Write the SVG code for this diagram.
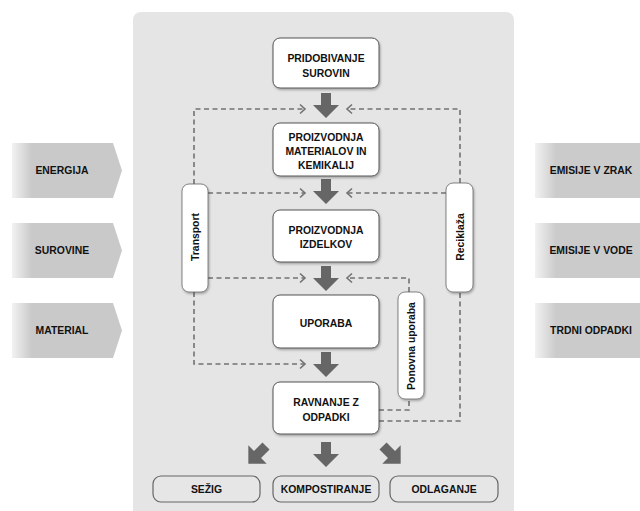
<svg xmlns="http://www.w3.org/2000/svg" width="640" height="511" viewBox="0 0 640 511">
<defs>
<style>
text{font-family:"Liberation Sans",Arial,sans-serif;font-weight:bold;font-size:10.4px;fill:#111;text-anchor:middle}
.node{fill:#fff;stroke:#555;stroke-width:1}
.side{fill:#fff;stroke:#666;stroke-width:0.8}
.out{fill:#e6e6e6;stroke:#666;stroke-width:1.2}
.dash{fill:none;stroke:#727272;stroke-width:1.6;stroke-dasharray:5 3.5}
.big{fill:#666}
</style>
<linearGradient id="gl" x1="12" y1="0" x2="122" y2="0" gradientUnits="userSpaceOnUse">
<stop offset="0" stop-color="#f2f2f2"/><stop offset="0.18" stop-color="#c9c9c9"/><stop offset="1" stop-color="#c9c9c9"/>
</linearGradient>
<linearGradient id="gr" x1="535" y1="0" x2="640" y2="0" gradientUnits="userSpaceOnUse">
<stop offset="0" stop-color="#f2f2f2"/><stop offset="0.2" stop-color="#cbcbcb"/><stop offset="1" stop-color="#cbcbcb"/>
</linearGradient>
<filter id="sh" x="-20%" y="-20%" width="140%" height="140%">
<feDropShadow dx="1" dy="1.5" stdDeviation="1.2" flood-color="#000" flood-opacity="0.3"/>
</filter>
<marker id="chev" markerUnits="userSpaceOnUse" markerWidth="12" markerHeight="12" viewBox="-8 -6 12 12" refX="0" refY="0" orient="auto">
<path d="M-5,-4.5 L0,0 L-5,4.5" fill="none" stroke="#727272" stroke-width="1.6"/>
</marker>
<path id="arr" d="M-5,0 H5 V12 H13 L0,25 L-13,12 H-5 Z"/>
</defs>

<rect x="133" y="12" width="381" height="510" rx="8" fill="#e5e5e5"/>

<g id="in-energija"><path d="M12,143 H113 L122,170.5 L113,198 H12 Z" fill="url(#gl)"/><text x="62" y="174">ENERGIJA</text></g>
<g id="in-surovine"><path d="M12,223 H113 L122,250.5 L113,278 H12 Z" fill="url(#gl)"/><text x="62" y="254">SUROVINE</text></g>
<g id="in-material"><path d="M12,303 H113 L122,330.5 L113,358 H12 Z" fill="url(#gl)"/><text x="62" y="334">MATERIAL</text></g>

<g id="out-zrak"><rect x="535" y="143" width="105" height="55" fill="url(#gr)"/><text x="591" y="174">EMISIJE V ZRAK</text></g>
<g id="out-vode"><rect x="535" y="223" width="105" height="55" fill="url(#gr)"/><text x="591" y="254">EMISIJE V VODE</text></g>
<g id="out-trdni"><rect x="535" y="303" width="105" height="55" fill="url(#gr)"/><text x="591" y="334">TRDNI ODPADKI</text></g>

<g id="connectors">
<path class="dash" d="M194,184 V109 H305" marker-end="url(#chev)"/>
<path class="dash" d="M460,183 V109 H347" marker-end="url(#chev)"/>
<path class="dash" d="M208,193 H305" marker-end="url(#chev)"/>
<path class="dash" d="M446,193 H347" marker-end="url(#chev)"/>
<path class="dash" d="M208,278 H305" marker-end="url(#chev)"/>
<path class="dash" d="M409,292 V278 H347" marker-end="url(#chev)"/>
<path class="dash" d="M194,292 V364 H305" marker-end="url(#chev)"/>
<path class="dash" d="M379,410 H409 V399"/>
<path class="dash" d="M379,421 H460 V292"/>
<use href="#arr" class="big" x="326" y="93"/>
<use href="#arr" class="big" x="326" y="179"/>
<use href="#arr" class="big" x="326" y="266"/>
<use href="#arr" class="big" x="326" y="352"/>
<use href="#arr" class="big" x="326" y="442"/>
<use href="#arr" class="big" transform="translate(266,446) rotate(45)"/>
<use href="#arr" class="big" transform="translate(383,446) rotate(-45)"/>
</g>

<g id="transport"><rect class="side" x="182" y="184" width="26" height="108" rx="7" filter="url(#sh)"/><text transform="translate(199,237) rotate(-90)">Transport</text></g>
<g id="reciklaza"><rect class="side" x="446" y="183" width="27" height="109" rx="7" filter="url(#sh)"/><text transform="translate(463.5,237) rotate(-90)">Reciklaža</text></g>
<g id="ponovna"><rect class="side" x="398" y="292" width="26" height="107" rx="7" filter="url(#sh)"/><text transform="translate(415,346) rotate(-90)">Ponovna uporaba</text></g>

<g id="pridobivanje"><rect class="node" x="273" y="38" width="106" height="50" rx="7" filter="url(#sh)"/><text x="326" y="62">PRIDOBIVANJE</text><text x="326" y="77">SUROVIN</text></g>
<g id="proizvodnja-materialov"><rect class="node" x="273" y="123" width="106" height="53" rx="7" filter="url(#sh)"/><text x="326" y="141">PROIZVODNJA</text><text x="326" y="155">MATERIALOV IN</text><text x="326" y="169">KEMIKALIJ</text></g>
<g id="proizvodnja-izdelkov"><rect class="node" x="273" y="210" width="106" height="52" rx="7" filter="url(#sh)"/><text x="326" y="234">PROIZVODNJA</text><text x="326" y="248">IZDELKOV</text></g>
<g id="uporaba"><rect class="node" x="273" y="295" width="106" height="53" rx="7" filter="url(#sh)"/><text x="326" y="327">UPORABA</text></g>
<g id="ravnanje"><rect class="node" x="273" y="382" width="106" height="52" rx="7" filter="url(#sh)"/><text x="326" y="406">RAVNANJE Z</text><text x="326" y="421">ODPADKI</text></g>

<g id="sezig"><rect class="out" x="153" y="476" width="107" height="26" rx="8"/><text x="206.5" y="493">SEŽIG</text></g>
<g id="kompostiranje"><rect class="out" x="273" y="476" width="106" height="26" rx="8"/><text x="326" y="493">KOMPOSTIRANJE</text></g>
<g id="odlaganje"><rect class="out" x="390" y="476" width="108" height="26" rx="8"/><text x="444" y="493">ODLAGANJE</text></g>
</svg>
